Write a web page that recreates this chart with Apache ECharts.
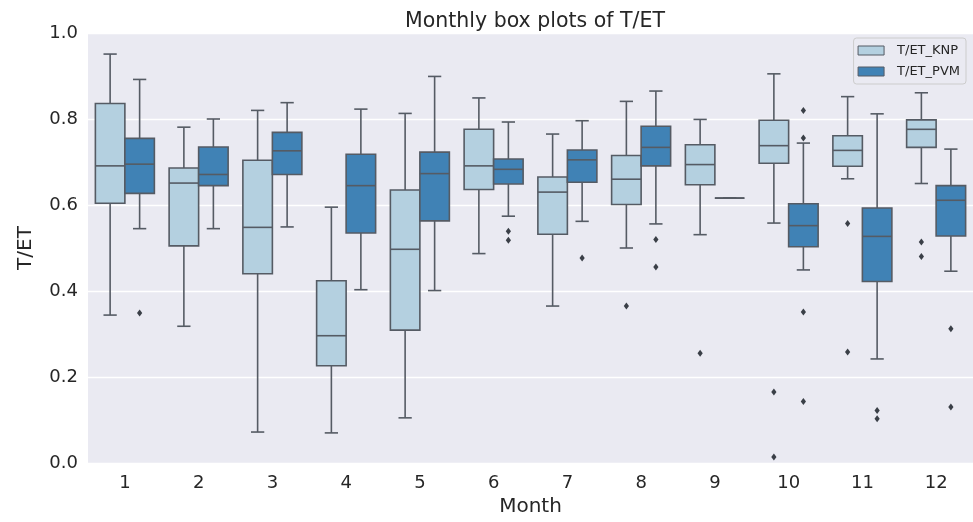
<!DOCTYPE html>
<html><head><meta charset="utf-8">
<script src="https://cdn.jsdelivr.net/npm/echarts@6/dist/echarts.min.js"></script>
<style>html,body{margin:0;background:#fff}#c{width:973px;height:522px}</style>
</head><body><div id="c"></div>
<script>
const months = ['1','2','3','4','5','6','7','8','9','10','11','12'];
const yTicks = [0, 0.2, 0.4, 0.6, 0.8, 1.0];

const knpLow  = [0.344,0.318,0.072,0.070,0.105,0.487,0.365,0.500,0.531,0.558,0.661,0.650];
const knpQ1   = [0.604,0.505,0.440,0.226,0.309,0.636,0.532,0.601,0.647,0.697,0.690,0.734];
const knpMed  = [0.691,0.651,0.548,0.296,0.497,0.691,0.630,0.660,0.694,0.738,0.727,0.776];
const knpQ3   = [0.836,0.686,0.704,0.424,0.635,0.776,0.665,0.715,0.740,0.797,0.761,0.798];
const knpHigh = [0.951,0.781,0.820,0.595,0.813,0.849,0.765,0.841,0.799,0.905,0.852,0.861];
const knpOutliers = [[7,0.365],[8,0.255],[9,0.165],[9,0.014],[10,0.557],[10,0.258],[11,0.514],[11,0.480]];

const pvmLow  = [0.545,0.545,0.549,0.403,0.401,0.574,0.562,0.556,0.616,0.449,0.242,0.446];
const pvmQ1   = [0.627,0.645,0.671,0.535,0.563,0.649,0.653,0.691,0.616,0.503,0.422,0.528];
const pvmMed  = [0.695,0.671,0.726,0.645,0.673,0.683,0.705,0.734,0.616,0.552,0.527,0.611];
const pvmQ3   = [0.755,0.735,0.769,0.718,0.723,0.707,0.728,0.783,0.616,0.603,0.593,0.645];
const pvmHigh = [0.892,0.800,0.838,0.823,0.899,0.793,0.796,0.865,0.616,0.744,0.812,0.730];
const pvmOutliers = [[0,0.349],[5,0.539],[5,0.518],[6,0.477],[7,0.520],[7,0.456],[9,0.820],[9,0.756],[9,0.351],[9,0.143],[10,0.122],[10,0.103],[11,0.312],[11,0.130]];

const KNP_COLOR = '#b4d0e0';
const PVM_COLOR = '#4082b5';
const EDGE = '#555b64';
const FLIER = '#3a3f47';

function rows(low, q1, med, q3, high) {
  return months.map((m, i) => [i, low[i], q1[i], med[i], q3[i], high[i]]);
}

function boxRenderer(side) {
  return function (params, api) {
    const i = api.value(0);
    const band = api.size([1, 0])[0];
    const w = band * 0.4;
    const cx = api.coord([i, 0])[0] + side * w / 2;
    const yL = api.coord([i, api.value(1)])[1];
    const y1 = api.coord([i, api.value(2)])[1];
    const yM = api.coord([i, api.value(3)])[1];
    const y3 = api.coord([i, api.value(4)])[1];
    const yH = api.coord([i, api.value(5)])[1];
    const cap = w * 0.45;
    const ls = { stroke: EDGE, lineWidth: 1.6 };
    const fill = api.visual('color');
    return {
      type: 'group',
      children: [
        { type: 'line', shape: { x1: cx, y1: y1, x2: cx, y2: yL }, style: ls },
        { type: 'line', shape: { x1: cx, y1: y3, x2: cx, y2: yH }, style: ls },
        { type: 'line', shape: { x1: cx - cap / 2, y1: yL, x2: cx + cap / 2, y2: yL }, style: ls },
        { type: 'line', shape: { x1: cx - cap / 2, y1: yH, x2: cx + cap / 2, y2: yH }, style: ls },
        { type: 'rect', shape: { x: cx - w / 2, y: y3, width: w, height: y1 - y3 }, style: { fill: fill, stroke: EDGE, lineWidth: 1.6 } },
        { type: 'line', shape: { x1: cx - w / 2, y1: yM, x2: cx + w / 2, y2: yM }, style: ls }
      ]
    };
  };
}

function flierRenderer(side) {
  return function (params, api) {
    const i = api.value(0);
    const band = api.size([1, 0])[0];
    const w = band * 0.4;
    const cx = api.coord([i, 0])[0] + side * w / 2;
    const cy = api.coord([i, api.value(1)])[1];
    return {
      type: 'polygon',
      shape: { points: [[cx, cy - 3.5], [cx + 2.6, cy], [cx, cy + 3.5], [cx - 2.6, cy]] },
      style: { fill: FLIER }
    };
  };
}

const chart = echarts.init(document.getElementById('c'), null, { renderer: 'canvas' });
chart.setOption({
  backgroundColor: '#ffffff',
  animation: false,
  title: {
    text: 'Monthly box plots of T/ET',
    left: 530, top: 6, textAlign: 'center',
    textStyle: { fontFamily: 'DejaVu Sans', fontSize: 20.5, fontWeight: 'normal', color: '#262626' }
  },
  legend: {
    orient: 'vertical', right: 7, top: 38,
    backgroundColor: '#eaeaf2', borderColor: '#cccccc', borderWidth: 1, borderRadius: 3,
    padding: [6, 6, 6, 4], itemGap: 8, itemWidth: 26, itemHeight: 9,
    textStyle: { fontFamily: 'DejaVu Sans', fontSize: 13, color: '#262626', padding: [0, 0, 0, 8] },
    data: [
      { name: 'T/ET_KNP', icon: 'rect', itemStyle: { color: KNP_COLOR, borderColor: EDGE, borderWidth: 1 } },
      { name: 'T/ET_PVM', icon: 'rect', itemStyle: { color: PVM_COLOR, borderColor: EDGE, borderWidth: 1 } }
    ]
  },
  grid: { left: 88, right: 0, top: 33, bottom: 58, show: true, backgroundColor: '#eaeaf2', borderWidth: 0 },
  xAxis: {
    type: 'category', data: months, boundaryGap: true,
    name: 'Month', nameLocation: 'middle', nameGap: 34,
    nameTextStyle: { fontFamily: 'DejaVu Sans', fontSize: 20, color: '#262626' },
    axisLine: { show: false }, axisTick: { show: false },
    axisLabel: { fontFamily: 'DejaVu Sans', fontSize: 18, color: '#262626', margin: 11 },
    splitLine: { show: false }
  },
  yAxis: {
    type: 'value', min: 0, max: 1, interval: 0.2,
    name: 'T/ET', nameLocation: 'middle', nameGap: 52,
    nameTextStyle: { fontFamily: 'DejaVu Sans', fontSize: 20, color: '#262626' },
    axisLine: { show: false }, axisTick: { show: false },
    axisLabel: {
      fontFamily: 'DejaVu Sans', fontSize: 18, color: '#262626', margin: 10,
      formatter: v => (yTicks.find(t => Math.abs(t - v) < 1e-9) ?? v).toFixed(1)
    },
    splitLine: { show: true, lineStyle: { color: '#ffffff', width: 1.3 } }
  },
  series: [
    {
      name: 'T/ET_KNP', type: 'custom', renderItem: boxRenderer(-1),
      itemStyle: { color: KNP_COLOR },
      encode: { x: 0, y: [1, 2, 3, 4, 5] },
      data: rows(knpLow, knpQ1, knpMed, knpQ3, knpHigh)
    },
    {
      name: 'T/ET_PVM', type: 'custom', renderItem: boxRenderer(1),
      itemStyle: { color: PVM_COLOR },
      encode: { x: 0, y: [1, 2, 3, 4, 5] },
      data: rows(pvmLow, pvmQ1, pvmMed, pvmQ3, pvmHigh)
    },
    {
      name: 'KNP outliers', type: 'custom', renderItem: flierRenderer(-1),
      encode: { x: 0, y: 1 }, data: knpOutliers
    },
    {
      name: 'PVM outliers', type: 'custom', renderItem: flierRenderer(1),
      encode: { x: 0, y: 1 }, data: pvmOutliers
    }
  ]
});
</script></body></html>
